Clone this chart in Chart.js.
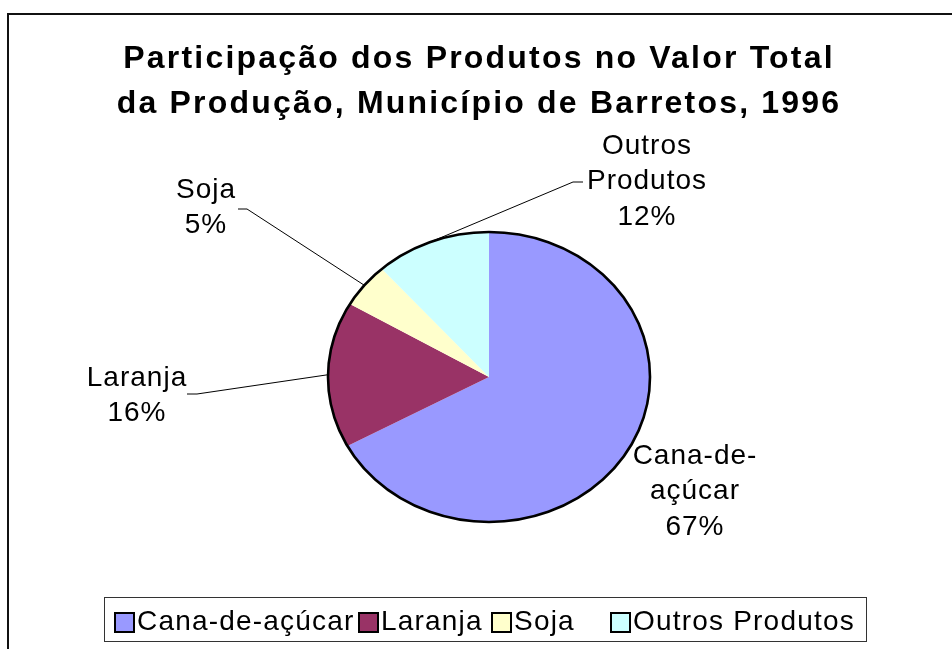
<!DOCTYPE html>
<html>
<head>
<meta charset="utf-8">
<script src="https://cdn.jsdelivr.net/npm/chart.js@4"></script>
<style>
  html, body { margin: 0; padding: 0; background: #fff; }
  #wrap { width: 952px; height: 649px; }
</style>
</head>
<body>
<div id="wrap"><canvas id="chartCanvas" width="952" height="649"></canvas></div>
<script>
// --- data ---
const titleLines = ["Participação dos Produtos no Valor Total", "da Produção, Município de Barretos, 1996"];
const categories = ["Cana-de-açúcar", "Laranja", "Soja", "Outros Produtos"];
const shares = [67.1, 16.3, 5.0, 11.6];
const sliceColors = ["#9999FF", "#993366", "#FFFFCC", "#CCFFFF"];
const labelNames = [["Cana-de-", "açúcar"], ["Laranja"], ["Soja"], ["Outros", "Produtos"]];

// --- layout bits (positions only) ---
const FONT = "'Liberation Sans', Arial, sans-serif";
const stretchX = 161 / 145;   // the original pie is a bit wider than tall
const labelSpots = [
  { x: 695, y: 456, stub: null },
  { x: 137, y: 378, stub: [187, 197, 394] },
  { x: 206, y: 190, stub: [238, 247, 209] },
  { x: 647, y: 146, stub: [583, 573, 182] }
];
const legendBoxX = [115, 359, 492, 611];

const canvas = document.getElementById("chartCanvas");
const total = shares.reduce((a, b) => a + b, 0);
const pctText = v => Math.round(v / total * 100) + "%";

// frame + white background
const framePlugin = {
  id: "frame",
  beforeDraw(chart) {
    const ctx = chart.ctx;
    ctx.save();
    ctx.fillStyle = "#fff";
    ctx.fillRect(0, 0, chart.width, chart.height);
    ctx.strokeStyle = "#111";
    ctx.lineWidth = 2;
    ctx.beginPath();
    ctx.moveTo(8, chart.height);
    ctx.lineTo(8, 14);
    ctx.lineTo(chart.width, 14);
    ctx.stroke();
    ctx.restore();
  }
};

// squash the round pie into the ellipse of the original
const ellipsePlugin = {
  id: "ellipsePie",
  beforeDatasetsDraw(chart) {
    const arc = chart.getDatasetMeta(0).data[0];
    const ctx = chart.ctx;
    ctx.save();
    ctx.translate(arc.x, arc.y);
    ctx.scale(stretchX, 1);
    ctx.translate(-arc.x, -arc.y);
  },
  afterDatasetsDraw(chart) {
    const ctx = chart.ctx;
    ctx.restore();
    const arc = chart.getDatasetMeta(0).data[0];
    ctx.save();
    ctx.beginPath();
    ctx.ellipse(arc.x, arc.y, arc.outerRadius * stretchX, arc.outerRadius, 0, 0, Math.PI * 2);
    ctx.lineWidth = 2.6;
    ctx.strokeStyle = "#000";
    ctx.stroke();
    ctx.restore();
  }
};

// title, data labels with leader lines, legend
const textPlugin = {
  id: "texts",
  afterDraw(chart) {
    const ctx = chart.ctx;
    ctx.save();
    ctx.fillStyle = "#000";
    ctx.textAlign = "center";
    ctx.textBaseline = "middle";

    // title
    ctx.font = "bold 32px " + FONT;
    ctx.letterSpacing = "2.2px";
    ctx.fillText(titleLines[0], 479, 59);
    ctx.fillText(titleLines[1], 479, 104);

    // labels
    ctx.font = "28px " + FONT;
    ctx.letterSpacing = "1px";
    const meta = chart.getDatasetMeta(0);
    meta.data.forEach((arc, i) => {
      const spot = labelSpots[i];
      const lines = labelNames[i].concat([pctText(shares[i])]);
      lines.forEach((t, k) => ctx.fillText(t, spot.x, spot.y + k * 35.5));

      if (spot.stub) {
        const mid = (arc.startAngle + arc.endAngle) / 2;
        const ex = arc.x + Math.cos(mid) * arc.outerRadius * stretchX;
        const ey = arc.y + Math.sin(mid) * arc.outerRadius;
        ctx.beginPath();
        ctx.moveTo(spot.stub[0], spot.stub[2]);
        ctx.lineTo(spot.stub[1], spot.stub[2]);
        ctx.lineTo(ex, ey);
        ctx.lineWidth = 1;
        ctx.strokeStyle = "#000";
        ctx.stroke();
      }
    });

    // legend
    ctx.strokeStyle = "#333";
    ctx.lineWidth = 1;
    ctx.strokeRect(104.5, 597.5, 762, 44);
    ctx.font = "28px " + FONT;
    ctx.letterSpacing = "1.2px";
    ctx.textAlign = "left";
    categories.forEach((name, i) => {
      const bx = legendBoxX[i];
      ctx.fillStyle = sliceColors[i];
      ctx.fillRect(bx, 613, 19, 19);
      ctx.strokeStyle = "#000";
      ctx.lineWidth = 2;
      ctx.strokeRect(bx, 613, 19, 19);
      ctx.fillStyle = "#000";
      ctx.fillText(name, bx + 22, 622);
    });
    ctx.restore();
  }
};

new Chart(canvas, {
  type: "pie",
  data: {
    labels: categories,
    datasets: [{
      data: shares,
      backgroundColor: sliceColors,
      borderWidth: 0,
      clip: false
    }]
  },
  options: {
    responsive: false,
    animation: false,
    layout: { padding: { left: 344, right: 318, top: 232, bottom: 127 } },
    plugins: {
      legend: { display: false },
      title: { display: false },
      tooltip: { enabled: false }
    }
  },
  plugins: [framePlugin, ellipsePlugin, textPlugin]
});
</script>
</body>
</html>
